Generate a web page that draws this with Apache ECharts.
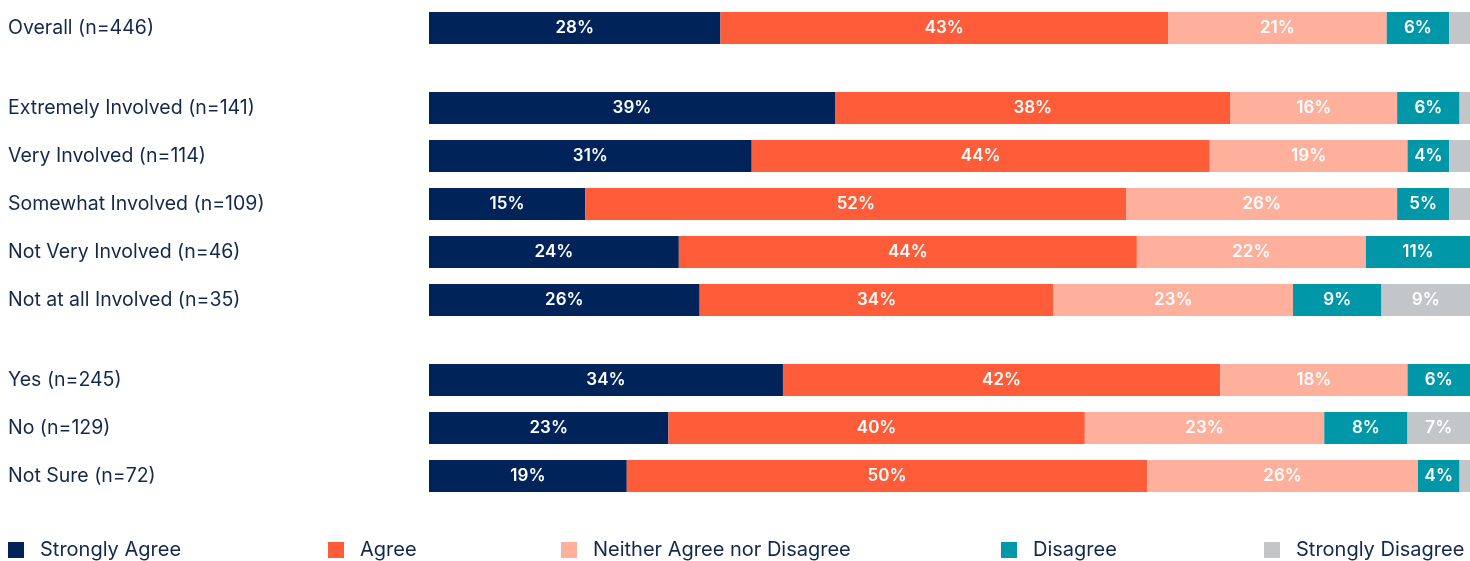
<!DOCTYPE html>
<html><head><meta charset="utf-8">
<script src="https://cdn.jsdelivr.net/npm/echarts@6/dist/echarts.min.js"></script>
<style>html,body{margin:0;padding:0;background:#fff}#c{width:1470px;height:561px}</style>
</head><body><div id="c"></div>
<script>
const categories = ['Overall (n=446)','Extremely Involved (n=141)','Very Involved (n=114)','Somewhat Involved (n=109)','Not Very Involved (n=46)','Not at all Involved (n=35)','Yes (n=245)','No (n=129)','Not Sure (n=72)'];
const groupSizes = [1, 5, 3];
const seriesNames = ['Strongly Agree','Agree','Neither Agree nor Disagree','Disagree','Strongly Disagree'];
const stronglyAgree = [28, 39, 31, 15, 24, 26, 34, 23, 19];
const agree = [43, 38, 44, 52, 44, 34, 42, 40, 50];
const neither = [21, 16, 19, 26, 22, 23, 18, 23, 26];
const disagree = [6, 6, 4, 5, 10.5, 8.5, 6, 8, 4];
const stronglyDisagree = [2, 1, 2, 2, 0, 8.5, 0, 6.5, 1];
const colors = ['#00245A','#FF5C39','#FFB09D','#0097A9','#C2C6C9'];
const allValues = [stronglyAgree, agree, neither, disagree, stronglyDisagree];
const legendLefts = [8, 328, 561, 1001, 1264];

const FONT = 'Inter';
const TXT = '#13294B';
const grids = [{top:4,height:48},{top:84,height:240},{top:356,height:144}];
const option = {
  animation:false,
  textStyle:{fontFamily:FONT},
  grid: grids.map(g=>({left:429,right:0,top:g.top,height:g.height})),
  xAxis: grids.map((g,i)=>({type:'value',gridIndex:i,min:0,max:100,show:false})),
  yAxis: [], series: [],
  legend: seriesNames.map((name,i)=>({
    left:legendLefts[i], top:540, padding:0, itemWidth:16, itemHeight:16, icon:'rect',
    textStyle:{color:TXT,fontSize:20,fontFamily:FONT,padding:[3,0,0,11]},
    data:[name]
  }))
};
let start = 0;
groupSizes.forEach((n,gi)=>{
  const cats = categories.slice(start,start+n);
  option.yAxis.push({type:'category',gridIndex:gi,inverse:true,data:cats,
    axisLine:{show:false},axisTick:{show:false},
    axisLabel:{align:'left',margin:421,color:TXT,fontSize:19.5,fontFamily:FONT,padding:[4,0,0,0]}});
  seriesNames.forEach((name,si)=>{
    option.series.push({
      type:'bar',name,stack:'s'+gi,xAxisIndex:gi,yAxisIndex:gi,barWidth:32,
      itemStyle:{color:colors[si]},
      data: allValues[si].slice(start,start+n).map(v=>({value:v,label:{show:v>=3}})),
      label:{position:'inside',color:'#fff',fontSize:17,fontWeight:600,fontFamily:FONT,
        formatter:p=>Math.round(p.value)+'%'}
    });
  });
  start += n;
});
echarts.init(document.getElementById('c')).setOption(option);
</script></body></html>
